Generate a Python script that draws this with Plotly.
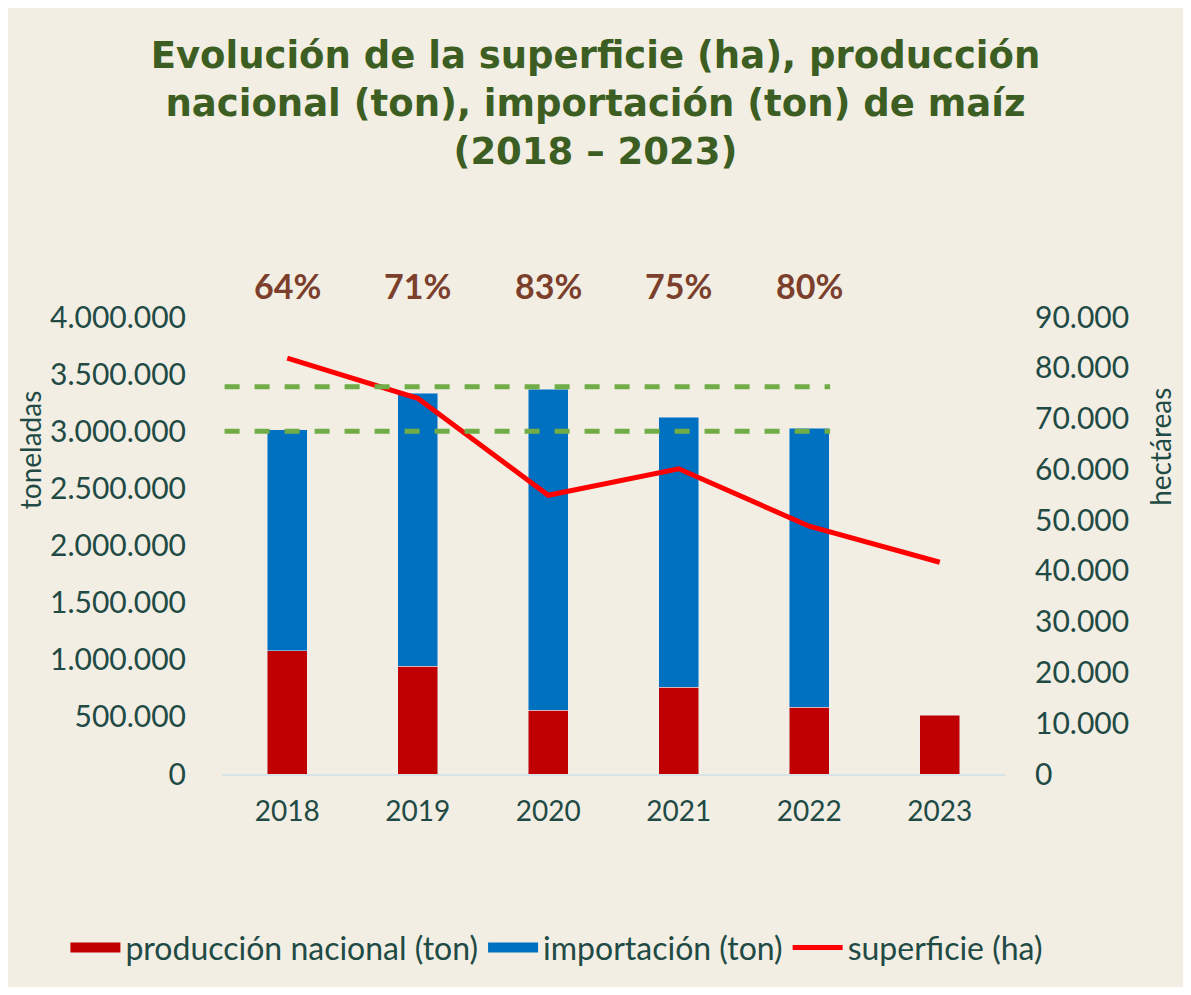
import plotly.graph_objects as go

# datos
anios = ["2018", "2019", "2020", "2021", "2022", "2023"]
produccion = [1077000, 945000, 560000, 761000, 586000, 516000]
importacion = [1934000, 2387000, 2807000, 2361000, 2440000, None]
superficie = [81900, 74000, 54900, 60100, 48800, 41700]
porcentajes = ["64%", "71%", "83%", "75%", "80%"]
niveles_ref = [3000000, 3390000]

texto = "#214A45"
rojo, azul = "#C00000", "#0070C0"
fig = go.Figure()

fig.add_trace(go.Bar(x=anios, y=produccion, name="producción nacional (ton)",
                     marker_color=rojo, yaxis="y", showlegend=False))
fig.add_trace(go.Bar(x=anios, y=importacion, name="importación (ton)",
                     marker_color=azul, yaxis="y", showlegend=False))
fig.add_trace(go.Scatter(x=anios, y=superficie, name="superficie (ha)", mode="lines",
                         line=dict(color="#FF0000", width=5), yaxis="y2",
                         showlegend=False))

# entradas de leyenda (rectángulos anchos como en el original)
for nombre, color, ancho in [("producción nacional (ton)", rojo, 20),
                             ("importación (ton)", azul, 20),
                             ("superficie (ha)", "#FF0000", 5)]:
    fig.add_trace(go.Scatter(x=[None], y=[None], mode="lines", name=nombre,
                             line=dict(color=color, width=ancho)))

# líneas de referencia discontinuas
for nivel in niveles_ref:
    fig.add_shape(type="line", xref="x", yref="y", x0=-0.71, x1=4.16, y0=nivel, y1=nivel,
                  line=dict(color="#70AD47", width=5, dash="dash"), layer="above")

# porcentajes de importación sobre cada año
for i, p in enumerate(porcentajes):
    fig.add_annotation(x=i, y=1.07, xref="x", yref="paper", text=f"<b>{p}</b>",
                       showarrow=False, xanchor="center", yanchor="middle",
                       font=dict(size=34, color="#7B3F2C", family="Lato"))

# títulos de ejes
fig.add_annotation(x=-0.245, y=0.709, xref="paper", yref="paper", text="toneladas",
                   textangle=-90, showarrow=False, xanchor="center", yanchor="middle",
                   font=dict(size=28, color=texto))
fig.add_annotation(x=1.198, y=0.716, xref="paper", yref="paper", text="hectáreas",
                   textangle=-90, showarrow=False, xanchor="center", yanchor="middle",
                   font=dict(size=28, color=texto))

fig.update_layout(
    width=1175, height=979,
    separators=",.",
    barmode="stack",
    bargap=0.69,
    paper_bgcolor="#F2EEE3",
    plot_bgcolor="#F2EEE3",
    font=dict(family="Lato", color=texto, size=30),
    title=dict(text="<b>Evolución de la superficie (ha), producción<br>nacional (ton), importación (ton) de maíz<br>(2018 – 2023)</b>",
               x=0.5, xanchor="center", y=0.939, yanchor="middle",
               font=dict(size=37, color="#3D5E22", family="DejaVu Sans")),
    margin=dict(l=214, r=178, t=309, b=213),
    xaxis=dict(type="category", range=[-0.5, 5.5], showgrid=False, showline=True,
               linecolor="#D6E4E8", linewidth=2, ticks="", tickfont=dict(size=28),
               ticklabelstandoff=11, tickangle=0),
    yaxis=dict(range=[0, 4000000], dtick=500000, tickformat=",d", showgrid=False,
               zeroline=False, ticks="", tickfont=dict(size=30), ticklabelstandoff=35),
    yaxis2=dict(range=[0, 90000], dtick=10000, tickformat=",d", showgrid=False,
                zeroline=False, overlaying="y", side="right", ticks="",
                tickfont=dict(size=30), ticklabelstandoff=29),
    legend=dict(orientation="h", x=-0.2, xanchor="left",
                y=-0.38, yanchor="middle", font=dict(size=32), traceorder="normal",
                itemwidth=50, tracegroupgap=0),
)

fig.write_html("out.html")
